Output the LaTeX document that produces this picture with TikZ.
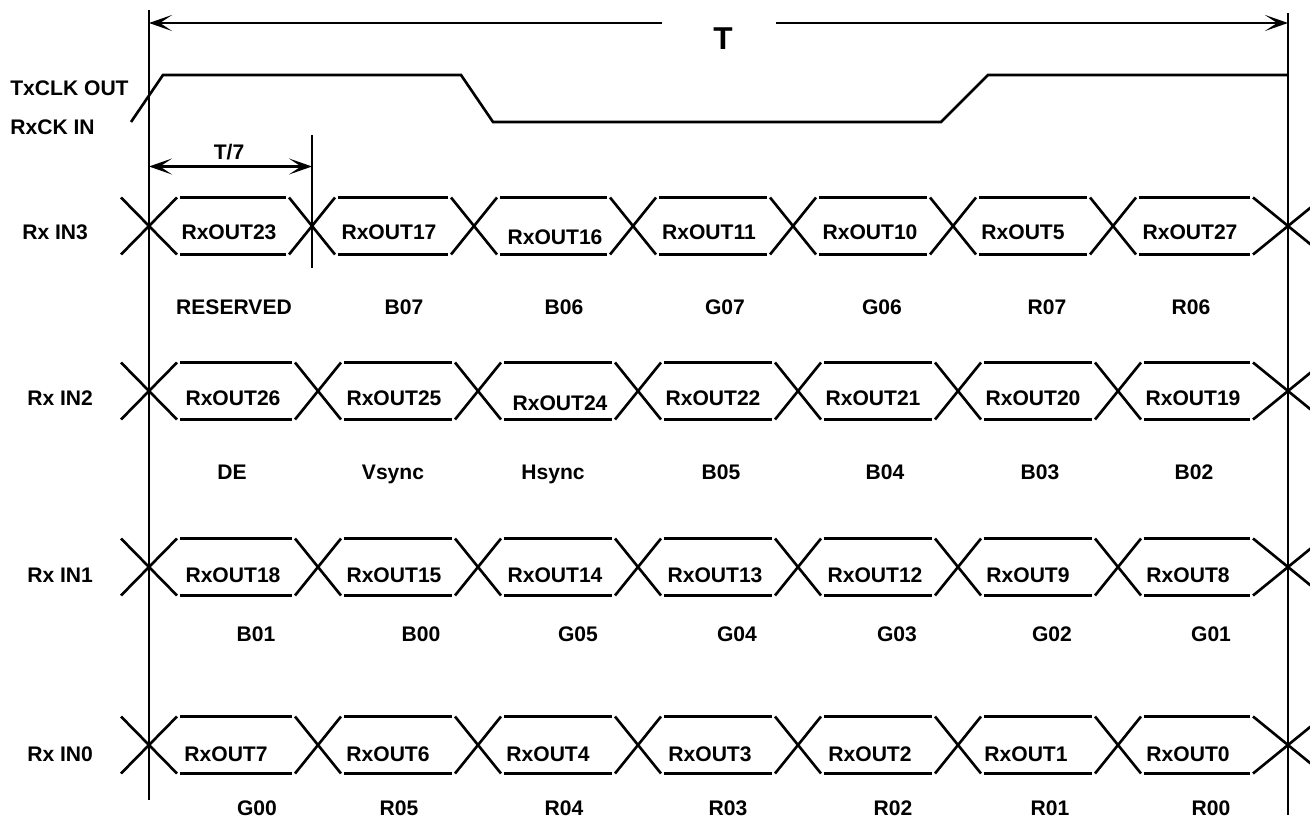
\documentclass[tikz,border=0pt]{standalone}
\usepackage{fontspec}
\setmainfont{Liberation Sans}
\usetikzlibrary{arrows.meta}
\tikzstyle{wave}=[line width=1.5pt]
\tikzset{lbl/.style={font=\bfseries\fontsize{12}{14}\selectfont, inner sep=0pt, text height=8.6pt, text depth=0pt}}
\tikzset{dim/.style={line width=1.5pt, -{Stealth[length=0.46cm,width=0.32cm,inset=0.24cm]}}}
\tikzset{dimboth/.style={line width=1.5pt, {Stealth[length=0.46cm,width=0.32cm,inset=0.24cm]}-{Stealth[length=0.46cm,width=0.32cm,inset=0.24cm]}}}
%% one serial line: crossing x / half width of the crossing
\newcommand\sigrow[2]{%
  \foreach \x/\a [remember=\x as \px (initially 0), remember=\a as \pa (initially 0), count=\i] in {#2}{
    \draw[wave] (\x-\a,#1-28.5) -- (\x+\a,#1+28.5) (\x-\a,#1+28.5) -- (\x+\a,#1-28.5);
    \ifnum\i>1
      \draw[wave] (\px+\pa+3,#1-28.5) -- (\x-\a-3,#1-28.5) (\px+\pa+3,#1+28.5) -- (\x-\a-3,#1+28.5);
    \fi
  }}

\begin{document}
\begin{tikzpicture}[x=0.02cm,y=-0.02cm]
  \useasboundingbox (0,0) rectangle (1310,820);

  %% Period markers
  \coordinate (L0) at (149,10);
  \coordinate (L1) at (149,800);
  \coordinate (R0) at (1288,13);
  \coordinate (R1) at (1288,815);
  \draw[wave] (L0) -- (L1);
  \draw[wave] (R0) -- (R1);

  \draw (723,38) node[lbl,font=\bfseries\fontsize{18}{20}\selectfont,text height=12.9pt] (T) {T};
  \coordinate (Tleft) at (149,23);
  \coordinate (Tright) at (1288,23);
  \coordinate (Tgap0) at (662,23);
  \coordinate (Tgap1) at (776,23);
  \draw[dim] (Tgap0) -- (Tleft);
  \draw[dim] (Tgap1) -- (Tright);

  \draw (229,152) node[lbl] (T7) {T/7};
  \coordinate (S0) at (312,135);
  \coordinate (S1) at (312,268);
  \draw[wave] (S0) -- (S1);
  \coordinate (T7left) at (149,166.5);
  \coordinate (T7right) at (312,166.5);
  \draw[dimboth] (T7left) -- (T7right);

  %% Clock
  \draw (10,88) node[lbl,anchor=west] (txclk) {TxCLK OUT};
  \draw (10,127) node[lbl,anchor=west] (rxclk) {RxCK IN};
  \draw[wave] (131,122) -- (163,75) -- (461,75) -- (493,122) -- (941,122) -- (988,75) -- (1288,75);

  %% Rx IN3
  \draw (22,232) node[lbl,anchor=west] (in3) {Rx IN3};
  \sigrow{226}{149/28, 312/23, 474/23, 633/23, 793/23, 953/23, 1113/23, 1288/35}
  \foreach \x/\t [count=\i] in {229/RxOUT23, 389/RxOUT17, 709/RxOUT11, 870/RxOUT10, 1023/RxOUT5, 1190/RxOUT27}
    \draw (\x,232) node[lbl] (in3-o\i) {\t};
  \draw (555,237) node[lbl] (in3-o16) {RxOUT16};
  \foreach \x/\t [count=\i] in {234/RESERVED, 404/B07, 564/B06, 725/G07, 882/G06, 1047/R07, 1191/R06}
    \draw (\x,307) node[lbl] (in3-b\i) {\t};

  %% Rx IN2
  \draw (27,398) node[lbl,anchor=west] (in2) {Rx IN2};
  \sigrow{391}{149/28, 318/23, 478/23, 638/23, 798/23, 958/23, 1118/23, 1288/35}
  \foreach \x/\t [count=\i] in {233/RxOUT26, 394/RxOUT25, 713/RxOUT22, 873/RxOUT21, 1033/RxOUT20, 1193/RxOUT19}
    \draw (\x,398) node[lbl] (in2-o\i) {\t};
  \draw (560,403) node[lbl] (in2-o24) {RxOUT24};
  \foreach \x/\t [count=\i] in {232/DE, 393/Vsync, 553/Hsync, 721/B05, 885/B04, 1040/B03, 1194/B02}
    \draw (\x,472) node[lbl] (in2-b\i) {\t};

  %% Rx IN1
  \draw (27,575) node[lbl,anchor=west] (in1) {Rx IN1};
  \sigrow{567}{149/28, 318/23, 478/23, 638/23, 798/23, 958/23, 1118/23, 1288/35}
  \foreach \x/\t [count=\i] in {233/RxOUT18, 394/RxOUT15, 555/RxOUT14, 715/RxOUT13, 875/RxOUT12, 1028/RxOUT9, 1188/RxOUT8}
    \draw (\x,575) node[lbl] (in1-o\i) {\t};
  \foreach \x/\t [count=\i] in {256/B01, 421/B00, 578/G05, 737/G04, 897/G03, 1052/G02, 1211/G01}
    \draw (\x,634) node[lbl] (in1-b\i) {\t};

  %% Rx IN0
  \draw (27,754) node[lbl,anchor=west] (in0) {Rx IN0};
  \sigrow{745}{149/28, 318/23, 478/23, 638/23, 798/23, 958/23, 1118/23, 1288/35}
  \foreach \x/\t [count=\i] in {226/RxOUT7, 388/RxOUT6, 548/RxOUT4, 710/RxOUT3, 870/RxOUT2, 1026/RxOUT1, 1188/RxOUT0}
    \draw (\x,754) node[lbl] (in0-o\i) {\t};
  \foreach \x/\t [count=\i] in {257/G00, 399/R05, 564/R04, 728/R03, 893/R02, 1050/R01, 1211/R00}
    \draw (\x,808) node[lbl] (in0-b\i) {\t};
\end{tikzpicture}
\end{document}
